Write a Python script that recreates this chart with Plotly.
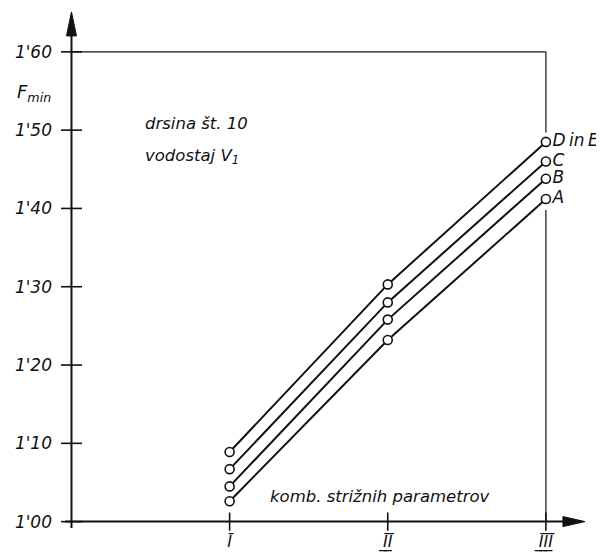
import plotly.graph_objects as go

# ---- data ----
categories = [1, 2, 3]                       # combinations I, II, III
x_ticktext = ["\u012A", "\u012A\u0332\u012A\u0332", "\u012A\u0332\u012A\u0332\u012A\u0332"]
series_names = ["A", "B", "C", "D\u2009in\u2009E"]
values_A = [1.026, 1.232, 1.412]
values_B = [1.045, 1.258, 1.438]
values_C = [1.067, 1.280, 1.460]
values_DE = [1.089, 1.303, 1.485]
y_tickvals = [1.00, 1.10, 1.20, 1.30, 1.40, 1.50, 1.60]
y_ticktext = ["1'00", "1'10", "1'20", "1'30", "1'40", "1'50", "1'60"]

series_values = [values_A, values_B, values_C, values_DE]

INK = "#111111"
FONT = "DejaVu Sans"

fig = go.Figure()

# data lines with open circles and end labels
for name, vals in zip(series_names, series_values):
    fig.add_trace(go.Scatter(
        x=categories, y=vals, mode="lines+markers+text",
        line=dict(color=INK, width=2),
        marker=dict(symbol="circle", size=9, color="white",
                    line=dict(color=INK, width=1.6)),
        text=["", "", name], textposition="middle right",
        textfont=dict(family=FONT, size=17, color=INK, style="italic"),
        cliponaxis=False, showlegend=False, hoverinfo="skip",
    ))

# tick marks crossing the axes
fig.add_trace(go.Scatter(
    x=[0] * len(y_tickvals), y=y_tickvals, mode="markers",
    marker=dict(symbol="line-ew", size=15, line=dict(color=INK, width=1.6)),
    cliponaxis=False, showlegend=False, hoverinfo="skip"))
fig.add_trace(go.Scatter(
    x=categories, y=[y_tickvals[0]] * len(categories), mode="markers",
    marker=dict(symbol="line-ns", size=13, line=dict(color=INK, width=1.6)),
    cliponaxis=False, showlegend=False, hoverinfo="skip"))

y0, ytop = y_tickvals[0], y_tickvals[-1]
xlast = categories[-1]
gap_top = max(v[-1] for v in series_values) + 0.012
gap_bot = min(v[-1] for v in series_values) - 0.014

shapes = [
    # axes
    dict(type="line", x0=0, x1=0, y0=y0 - 0.008, y1=1.635, line=dict(color=INK, width=2)),
    dict(type="line", x0=-0.04, x1=3.22, y0=y0, y1=y0, line=dict(color=INK, width=2)),
    # frame
    dict(type="line", x0=0, x1=xlast, y0=ytop, y1=ytop, line=dict(color=INK, width=1.3)),
    dict(type="line", x0=xlast, x1=xlast, y0=ytop, y1=gap_top, line=dict(color=INK, width=1.2)),
    dict(type="line", x0=xlast, x1=xlast, y0=gap_bot, y1=y0, line=dict(color=INK, width=1.2)),
    # arrow heads
    dict(type="path", xsizemode="pixel", ysizemode="pixel", xanchor=3.247, yanchor=y0,
         path="M0,0 L-22,5 L-22,-5 Z", fillcolor=INK, line=dict(color=INK, width=1)),
    dict(type="path", xsizemode="pixel", ysizemode="pixel", xanchor=0, yanchor=1.651,
         path="M0,0 L-5,-24 L5,-24 Z", fillcolor=INK, line=dict(color=INK, width=1)),
]

tf = dict(family=FONT, size=16.5, color=INK, style="italic")
annotations = [
    dict(text="F<sub>min</sub>", xref="paper", x=-0.09, xanchor="left",
         yref="y", y=1.548, yanchor="middle", showarrow=False,
         font=dict(family=FONT, size=18, color=INK, style="italic")),
    dict(text="drsina št. 10", xref="x", x=0.45, xanchor="left",
         yref="y", y=1.509, yanchor="middle", showarrow=False, font=tf),
    dict(text="vodostaj V<sub>1</sub>", xref="x", x=0.45, xanchor="left",
         yref="y", y=1.466, yanchor="middle", showarrow=False, font=tf),
    dict(text="komb. strižnih parametrov", xref="x", x=1.243, xanchor="left",
         yref="y", y=1.032, yanchor="middle", showarrow=False, font=tf),
]

fig.update_layout(
    width=604, height=554,
    margin=dict(l=54, r=25, t=0, b=32),
    paper_bgcolor="white", plot_bgcolor="white",
    shapes=shapes, annotations=annotations,
    xaxis=dict(range=[-0.06, 3.26], showgrid=False, zeroline=False, showline=False,
               automargin=False,
               tickmode="array", tickvals=categories, ticktext=x_ticktext, ticks="",
               tickfont=dict(family=FONT, size=16, color=INK, style="italic")),
    yaxis=dict(range=[0.9893, 1.656], showgrid=False, zeroline=False, showline=False,
               automargin=False,
               tickmode="array", tickvals=y_tickvals, ticktext=y_ticktext, ticks="",
               ticklabelstandoff=9,
               tickfont=dict(family=FONT, size=17, color=INK, style="italic")),
)

fig.write_html("out.html")
